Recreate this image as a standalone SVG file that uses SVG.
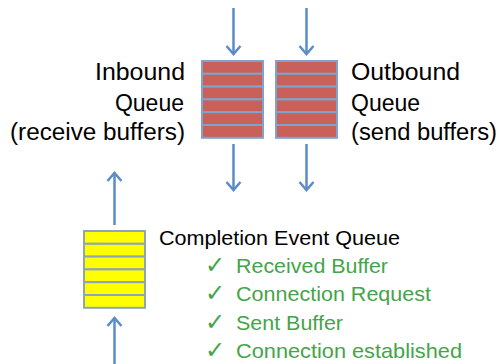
<svg xmlns="http://www.w3.org/2000/svg" width="500" height="364" viewBox="0 0 500 364">
<style>
.lbl{font-family:"Liberation Sans",Arial,sans-serif;font-size:23px;fill:#000}
.cq{font-family:"Liberation Sans",Arial,sans-serif;font-size:21px;fill:#000}
.gr{font-family:"Liberation Sans",Arial,sans-serif;font-size:21px;fill:#45a449}
.ck{font-family:"DejaVu Sans",sans-serif;font-size:24px;fill:#45a449}
.rb{fill:#c9605a;stroke:#7fa3cf;stroke-width:2}
.yb{fill:#ffff00;stroke:#8ea4b8;stroke-width:2}
.ar{stroke:#5b8cc6;stroke-width:2.5;fill:none;marker-end:url(#ah)}
</style>
<defs>
<marker id="ah" markerWidth="10" markerHeight="10" refX="5" refY="5" orient="auto" markerUnits="userSpaceOnUse" overflow="visible">
<polyline points="-3,-2 5,5 -3,12" fill="none" stroke="#5b8cc6" stroke-width="2.5" stroke-linejoin="miter"/>
</marker>
</defs>
<rect width="500" height="364" fill="#fff"/>
<g id="connectors">
<path class="ar" d="M233.5,8 V54"/>
<path class="ar" d="M306.5,8 V54"/>
<path class="ar" d="M233.5,144 V190"/>
<path class="ar" d="M306.5,144 V190"/>
<path class="ar" d="M114.5,225 V173"/>
<path class="ar" d="M114.5,364 V318"/>
</g>
<g id="inbound-queue">
<rect class="rb" x="202" y="61" width="61" height="12.8"/>
<rect class="rb" x="202" y="73.8" width="61" height="12.8"/>
<rect class="rb" x="202" y="86.6" width="61" height="12.8"/>
<rect class="rb" x="202" y="99.4" width="61" height="12.8"/>
<rect class="rb" x="202" y="112.2" width="61" height="12.8"/>
<rect class="rb" x="202" y="125" width="61" height="12.8"/>
<text class="lbl" x="185" y="80" text-anchor="end" textLength="90" lengthAdjust="spacingAndGlyphs">Inbound</text>
<text class="lbl" x="184" y="111" text-anchor="end">Queue</text>
<text class="lbl" x="185" y="140" text-anchor="end" textLength="175" lengthAdjust="spacingAndGlyphs">(receive buffers)</text>
</g>
<g id="outbound-queue">
<rect class="rb" x="276" y="61" width="61" height="12.8"/>
<rect class="rb" x="276" y="73.8" width="61" height="12.8"/>
<rect class="rb" x="276" y="86.6" width="61" height="12.8"/>
<rect class="rb" x="276" y="99.4" width="61" height="12.8"/>
<rect class="rb" x="276" y="112.2" width="61" height="12.8"/>
<rect class="rb" x="276" y="125" width="61" height="12.8"/>
<text class="lbl" x="351" y="80" textLength="109" lengthAdjust="spacingAndGlyphs">Outbound</text>
<text class="lbl" x="351" y="111">Queue</text>
<text class="lbl" x="351" y="140" textLength="146" lengthAdjust="spacingAndGlyphs">(send buffers)</text>
</g>
<g id="completion-queue">
<rect class="yb" x="84" y="231" width="61" height="12.8"/>
<rect class="yb" x="84" y="243.8" width="61" height="12.8"/>
<rect class="yb" x="84" y="256.6" width="61" height="12.8"/>
<rect class="yb" x="84" y="269.4" width="61" height="12.8"/>
<rect class="yb" x="84" y="282.2" width="61" height="12.8"/>
<rect class="yb" x="84" y="295" width="61" height="12.8"/>
<text class="cq" x="159" y="245" textLength="241" lengthAdjust="spacingAndGlyphs">Completion Event Queue</text>
<text class="ck" x="205" y="273">✓</text>
<text class="gr" x="236" y="273" textLength="152" lengthAdjust="spacingAndGlyphs">Received Buffer</text>
<text class="ck" x="205" y="301">✓</text>
<text class="gr" x="236" y="301" textLength="195" lengthAdjust="spacingAndGlyphs">Connection Request</text>
<text class="ck" x="205" y="330">✓</text>
<text class="gr" x="236" y="330" textLength="107" lengthAdjust="spacingAndGlyphs">Sent Buffer</text>
<text class="ck" x="205" y="358">✓</text>
<text class="gr" x="236" y="358" textLength="226" lengthAdjust="spacingAndGlyphs">Connection established</text>
</g>
</svg>
